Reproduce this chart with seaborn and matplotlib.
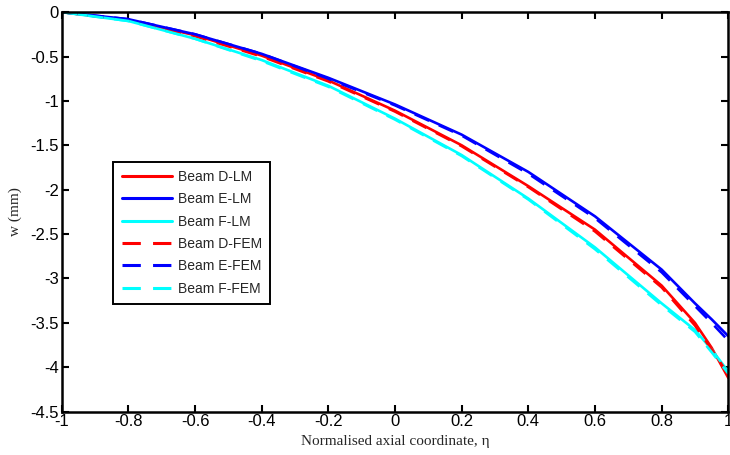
import numpy as np
import pandas as pd
import matplotlib
matplotlib.use("Agg")
import matplotlib.pyplot as plt
import seaborn as sns

# normalised axial coordinate
eta = [-1.0, -0.8, -0.6, -0.4, -0.2, 0.0, 0.2, 0.4, 0.6, 0.8, 0.9, 0.95, 1.0]

# deflection w (mm)
beam_d_lm = [0.0, -0.09, -0.26, -0.49, -0.77, -1.11, -1.50, -1.96, -2.45, -3.08, -3.50, -3.78, -4.12]
beam_e_lm = [0.0, -0.08, -0.25, -0.47, -0.74, -1.04, -1.38, -1.80, -2.30, -2.90, -3.28, -3.46, -3.65]
beam_f_lm = [0.0, -0.10, -0.30, -0.54, -0.83, -1.20, -1.61, -2.10, -2.65, -3.28, -3.58, -3.80, -4.05]
beam_d_fem = [0.0, -0.09, -0.27, -0.50, -0.78, -1.12, -1.51, -1.97, -2.47, -3.10, -3.53, -3.80, -4.08]
beam_e_fem = [0.0, -0.08, -0.25, -0.47, -0.75, -1.05, -1.39, -1.82, -2.32, -2.93, -3.31, -3.50, -3.70]
beam_f_fem = [0.0, -0.10, -0.30, -0.55, -0.84, -1.21, -1.62, -2.11, -2.67, -3.30, -3.60, -3.83, -4.07]

series = [
    ("Beam D-LM", beam_d_lm, "#ff0000", "-"),
    ("Beam E-LM", beam_e_lm, "#0000ff", "-"),
    ("Beam F-LM", beam_f_lm, "#00ffff", "-"),
    ("Beam D-FEM", beam_d_fem, "#ff0000", "--"),
    ("Beam E-FEM", beam_e_fem, "#0000ff", "--"),
    ("Beam F-FEM", beam_f_fem, "#00ffff", "--"),
]

sns.set_style("ticks")
plt.rcParams["font.family"] = ["Liberation Sans", "DejaVu Sans"]

fig = plt.figure(figsize=(7.3, 4.55), dpi=100)
ax = fig.add_axes([0.0845, 0.0952, 0.9132, 0.8782])

for name, vals, col, ls in series:
    df = pd.DataFrame({"eta": eta, "w": vals})
    sns.lineplot(data=df, x="eta", y="w", color=col, linewidth=1.9,
                 label=name, ax=ax, sort=False)
    if ls == "--":
        ax.lines[-1].set_dashes([6, 4])

ax.set_xlim(-1, 1)
ax.set_ylim(-4.5, 0)
ax.set_xticks(np.arange(-1, 1.01, 0.2))
ax.set_xticklabels(["-1", "-0.8", "-0.6", "-0.4", "-0.2", "0", "0.2", "0.4", "0.6", "0.8", "1"])
ax.set_yticks(np.arange(-4.5, 0.01, 0.5))
ax.set_yticklabels(["-4.5", "-4", "-3.5", "-3", "-2.5", "-2", "-1.5", "-1", "-0.5", "0"])

for sp in ax.spines.values():
    sp.set_visible(True)
    sp.set_color("black")
    sp.set_linewidth(1.8)
ax.tick_params(direction="in", length=5, width=1.5, top=True, right=True,
               labelsize=12, colors="black", pad=2)

ax.set_xlabel("Normalised axial coordinate, η", family=["Liberation Serif", "DejaVu Serif"],
              fontsize=11, labelpad=4)
ax.set_ylabel("w (mm)", family=["Liberation Serif", "DejaVu Serif"], fontsize=11, labelpad=6)

leg = ax.legend(loc="upper left", bbox_to_anchor=(0.0774, 0.626), borderaxespad=0,
                fontsize=10, handlelength=3.6, handletextpad=0.45, borderpad=0.6,
                labelspacing=0.6, fancybox=False, framealpha=1, edgecolor="black")
leg.get_frame().set_linewidth(1.4)
for h in leg.get_lines():
    h.set_linewidth(2.2)

fig.savefig("out.png", dpi=100)
